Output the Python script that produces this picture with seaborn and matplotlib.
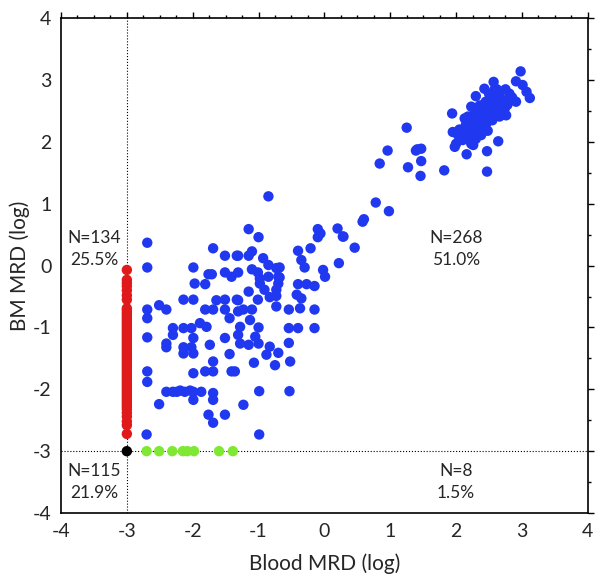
import numpy as np
import pandas as pd
import seaborn as sns
import matplotlib.pyplot as plt
from matplotlib.ticker import MultipleLocator

# blue points: detectable in both blood and BM
blue_x = [-2.69, -2.69, -1.69, -1.51, -1.33, -1.99, -1.76, -1.71, -1.51, -1.41, -1.97, -1.81,
          -2.14, -1.99, -1.64, -1.51, -1.33, -2.69, -2.69, -2.51, -2.40, -1.81, -1.69, -1.51,
          -1.44, -2.30, -2.30, -2.14, -2.02, -1.89, -1.79, -2.69, -2.40, -2.40, -1.99, -1.74,
          -1.51, -2.14, -2.02, -2.14, -1.99, -1.44, -1.69, -2.69, -2.69, -1.99, -1.81, -1.69,
          -1.41, -2.40, -2.30, -2.24, -2.19, -2.12, -2.04, -1.99, -1.87, -1.69, -1.69, -1.99,
          -2.51, -1.76, -1.51, -1.69, -2.70, -1.23, -0.99, -0.99, -0.53,
          -0.85, -1.15, -1.00, -0.10, -0.06, -0.10, 0.20, 0.28, 0.46, -1.31, -1.15, -1.10,
          -0.93, -0.85, -0.40, -0.21, -0.35, -0.30, -1.31, -1.10, -1.01, -0.98, -0.98, -0.85,
          -0.73, -0.70, -0.70, -0.73, -0.02, 0.01, 0.22, -0.40, -0.27, -0.15, -1.15, -0.91,
          -1.31, -1.01, -0.83, -0.73, -0.73, -0.42, -0.35, -0.37, -0.15, -0.54, -1.31, -1.23,
          -1.10, -1.13, -1.28, -1.00, -1.31, -1.28, -1.15, -1.00, -1.05, -0.54, -0.40, -0.15,
          -0.54, -0.83, -0.70, -0.88, -1.07, -0.75, -0.52, -1.36, -0.68, -0.68,
          1.25, 0.96, 0.84, 1.39, 1.47, 1.41, 1.47, 1.27, 1.46, 1.82, 0.78, 0.98, 0.60, 0.58,
          0.29,
          2.98, 2.91, 3.01, 3.07, 3.12, 2.57, 2.59, 2.43, 2.30, 2.66, 2.81, 2.84, 2.91, 2.74,
          2.61, 2.76, 2.66, 2.54, 2.51, 2.46, 2.36, 2.23, 2.18, 2.28, 2.38, 2.46, 2.33, 2.21,
          2.13, 1.94, 1.95, 2.03, 2.13, 2.18, 2.26, 2.33, 2.38, 2.00, 2.10, 2.23, 1.98, 2.26,
          2.16, 2.64, 2.47, 2.47,
          2.40, 2.50, 2.55, 2.65, 2.70, 2.45, 2.35, 2.60, 2.55, 2.70, 2.78, 2.28, 2.42, 2.20,
          2.30, 2.05, 2.58, 2.50, 2.62, 2.75, 2.52, 2.68, 2.40, 2.32, 2.15, 2.48, 2.60, 2.85]
blue_y = [0.37, -0.03, 0.28, 0.16, 0.16, -0.03, -0.14, -0.14, -0.11, -0.18, -0.29, -0.30,
          -0.55, -0.55, -0.56, -0.55, -0.55, -0.71, -0.85, -0.64, -0.71, -0.71, -0.71, -0.71,
          -0.85, -1.01, -1.12, -1.01, -1.01, -0.93, -0.99, -1.16, -1.26, -1.32, -1.17, -1.28,
          -1.17, -1.32, -1.32, -1.42, -1.42, -1.43, -1.55, -1.71, -1.88, -1.74, -1.71, -1.71,
          -1.71, -2.04, -2.04, -2.04, -2.02, -2.04, -2.02, -2.04, -2.04, -2.06, -2.17, -2.17,
          -2.24, -2.41, -2.41, -2.54, -2.73, -2.25, -2.03, -2.73, -2.03,
          1.12, 0.59, 0.46, 0.59, 0.52, 0.46, 0.60, 0.47, 0.29, 0.16, 0.16, 0.23,
          0.12, 0.01, 0.24, 0.28, 0.09, -0.03, -0.11, -0.06, -0.11, -0.21, -0.29, -0.18,
          -0.04, -0.18, -0.29, -0.39, -0.07, -0.18, 0.04, -0.30, -0.30, -0.33, -0.42, -0.39,
          -0.56, -0.55, -0.51, -0.49, -0.66, -0.47, -0.53, -0.69, -0.71, -0.71, -0.74, -0.71,
          -0.71, -0.88, -0.99, -1.00, -1.12, -1.26, -1.28, -1.26, -1.15, -1.01, -1.01, -1.01,
          -1.25, -1.31, -1.41, -1.44, -1.57, -1.61, -1.55, -1.71, -0.03, -0.19,
          2.23, 1.86, 1.65, 1.86, 1.89, 1.88, 1.69, 1.59, 1.45, 1.54, 1.02, 0.88, 0.75, 0.71,
          0.47,
          3.14, 2.98, 2.92, 2.81, 2.71, 2.97, 2.86, 2.86, 2.74, 2.73, 2.78, 2.68, 2.65, 2.54,
          2.54, 2.43, 2.41, 2.70, 2.57, 2.46, 2.59, 2.57, 2.41, 2.46, 2.38, 2.30, 2.27, 2.32,
          2.38, 2.46, 2.16, 2.11, 2.15, 2.08, 2.14, 2.15, 2.11, 1.97, 2.03, 1.97, 1.92, 1.95,
          1.80, 2.01, 1.85, 1.52,
          2.50, 2.40, 2.62, 2.62, 2.50, 2.65, 2.45, 2.45, 2.35, 2.68, 2.60, 2.38, 2.22, 2.20,
          2.05, 2.20, 2.75, 2.78, 2.85, 2.85, 2.52, 2.58, 2.34, 2.24, 2.28, 2.18, 2.65, 2.72]

# red points: blood negative (x = -3), BM positive
red_y = [-0.07, -0.23, -0.28, -0.33, -0.40, -0.48, -0.55, -0.69, -0.72, -0.76, -0.80, -0.84,
         -0.88, -0.92, -0.96, -1.00, -1.04, -1.08, -1.12, -1.16, -1.20, -1.24, -1.28, -1.32,
         -1.36, -1.40, -1.44, -1.48, -1.52, -1.56, -1.60, -1.64, -1.68, -1.72, -1.76, -1.80,
         -1.84, -1.88, -1.92, -1.96, -2.00, -2.04, -2.08, -2.12, -2.16, -2.20, -2.24, -2.28,
         -2.32, -2.38, -2.44, -2.52, -2.58, -2.72]

# green points: blood positive, BM negative (y = -3)
green_x = [-2.70, -2.51, -2.31, -2.15, -2.08, -1.98, -1.60, -1.39]

quad_text = ["N=134\n25.5%", "N=268\n51.0%", "N=115\n21.9%", "N=8\n1.5%"]
quad_x = [-3.5, 2.0, -3.5, 2.0]
quad_y = [0.27, 0.27, -3.5, -3.5]

df = pd.concat([
    pd.DataFrame({"blood": blue_x, "bm": blue_y, "grp": "both"}),
    pd.DataFrame({"blood": -3.0, "bm": red_y, "grp": "bm"}),
    pd.DataFrame({"blood": green_x, "bm": -3.0, "grp": "blood"}),
    pd.DataFrame({"blood": [-3.0], "bm": [-3.0], "grp": "none"}),
])

sns.set_style("white")
plt.rcParams['font.family'] = ['Lato', 'DejaVu Sans']
plt.rcParams['axes.unicode_minus'] = False

fig = plt.figure(figsize=(6.01, 5.87), dpi=100)
ax = fig.add_axes([0.1015, 0.126, 0.8765, 0.843])

ax.axvline(-3, color="black", ls=":", lw=0.8, zorder=1)
ax.axhline(-3, color="black", ls=":", lw=0.8, zorder=1)

pal = {"both": "#2038f0", "bm": "#e01a1a", "blood": "#7ee832", "none": "black"}
sns.scatterplot(data=df, x="blood", y="bm", hue="grp", palette=pal, s=56,
                linewidth=0, legend=False, ax=ax, zorder=3)

for t, x, y in zip(quad_text, quad_x, quad_y):
    ax.text(x, y, t, ha="center", va="center", fontsize=12.5, linespacing=1.45)

ax.set_xlim(-4, 4)
ax.set_ylim(-4, 4)
ax.xaxis.set_major_locator(MultipleLocator(1))
ax.xaxis.set_minor_locator(MultipleLocator(0.25))
ax.yaxis.set_major_locator(MultipleLocator(1))
ax.yaxis.set_minor_locator(MultipleLocator(0.5))
ax.tick_params(which="both", direction="out", top=True, right=True, color="black", width=1)
ax.tick_params(which="major", length=4, labelsize=14, pad=3)
ax.tick_params(which="minor", length=2)
for sp in ax.spines.values():
    sp.set_color("black")
    sp.set_linewidth(1.2)

ax.set_xlabel("Blood MRD (log)", fontsize=15, labelpad=10)
ax.set_ylabel("BM MRD (log)", fontsize=15, labelpad=2)

fig.savefig("out.png", dpi=100)
